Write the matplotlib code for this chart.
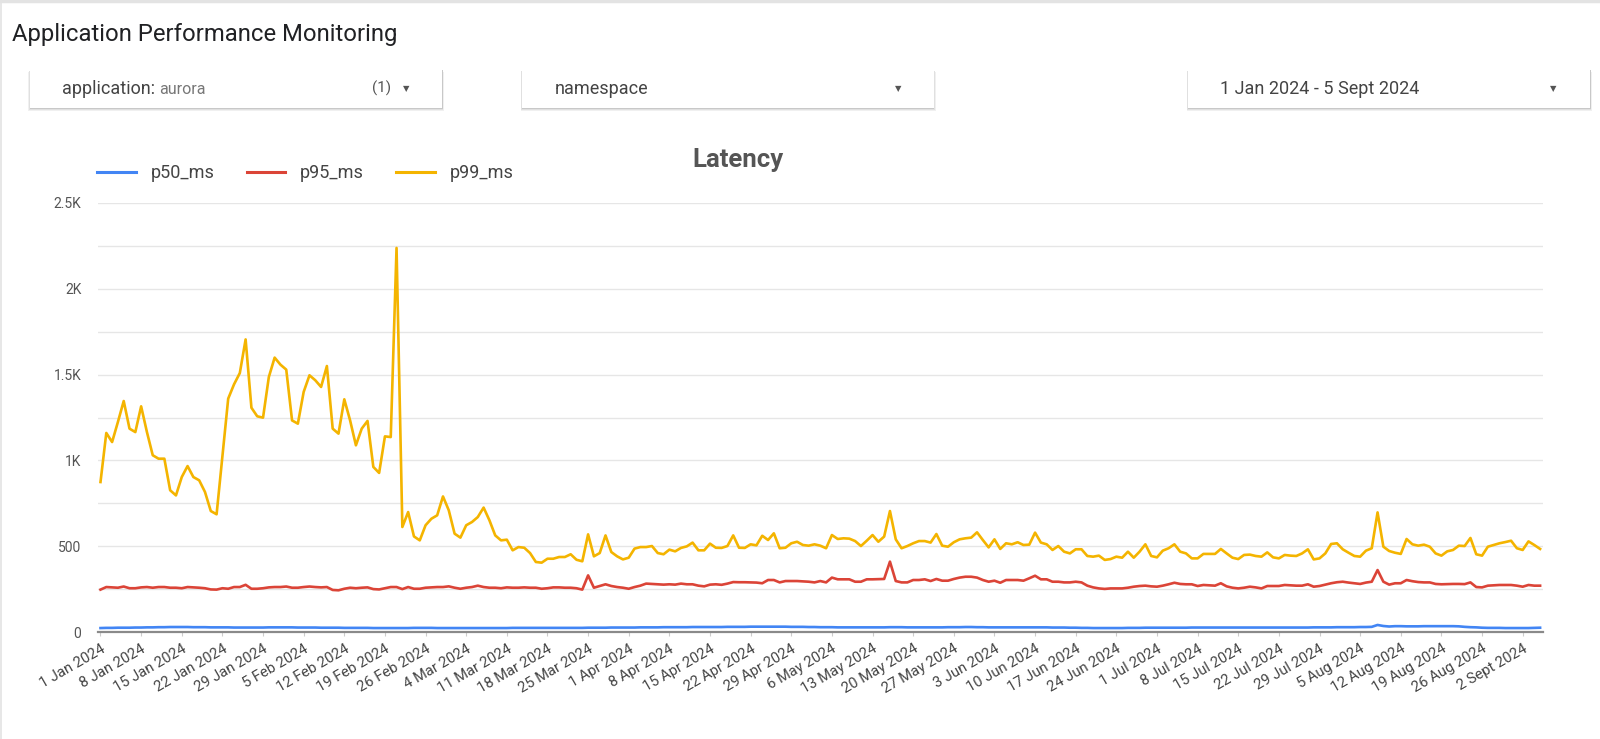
import numpy as np
import pandas as pd
import matplotlib
matplotlib.use("Agg")
import matplotlib.pyplot as plt
from matplotlib.patches import Rectangle
from matplotlib.lines import Line2D

plt.rcParams['font.family'] = ['Roboto', 'DejaVu Sans']

# daily values, 1 Jan 2024 .. 5 Sept 2024
dates = pd.date_range("2024-01-01", "2024-09-05", freq="D")

p99_ms = [
    874, 1160, 1107, 1224, 1346, 1185, 1165, 1315, 1165, 1030,
    1010, 1010, 826, 796, 903, 967, 903, 884, 816, 705,
    686, 1020, 1360, 1443, 1509, 1705, 1307, 1257, 1249, 1486,
    1599, 1558, 1529, 1233, 1214, 1399, 1496, 1467, 1428, 1550,
    1185, 1156, 1356, 1233, 1088, 1185, 1230, 962, 927, 1140,
    1136, 2238, 612, 699, 557, 534, 622, 660, 680, 790,
    709, 573, 550, 622, 641, 670, 725, 651, 563, 534,
    538, 476, 495, 491, 460, 408, 404, 427, 427, 437,
    437, 453, 421, 412, 569, 441, 460, 563, 466, 441,
    423, 433, 486, 495, 495, 501, 460, 453, 480, 470,
    490, 499, 521, 476, 476, 515, 491, 490, 501, 563,
    491, 490, 511, 505, 561, 536, 575, 488, 491, 517,
    526, 507, 503, 511, 503, 488, 565, 542, 546, 544,
    530, 501, 532, 565, 526, 556, 705, 540, 488, 501,
    517, 530, 530, 521, 571, 503, 497, 523, 540, 546,
    550, 581, 536, 493, 540, 484, 517, 511, 523, 507,
    509, 579, 521, 511, 478, 501, 468, 458, 482, 482,
    443, 439, 445, 420, 425, 439, 433, 468, 433, 468,
    511, 443, 435, 474, 488, 511, 468, 458, 429, 429,
    455, 455, 455, 484, 458, 433, 425, 449, 451, 443,
    439, 464, 435, 429, 449, 445, 443, 458, 482, 423,
    429, 458, 513, 517, 482, 462, 443, 439, 474, 488,
    697, 497, 472, 462, 455, 542, 511, 503, 509, 497,
    458, 445, 470, 478, 503, 501, 548, 453, 445, 497,
    507, 517, 524, 532, 488, 478, 528, 507, 484,
]

p95_ms = [
    247, 262, 260, 258, 265, 255, 255, 260, 262, 258,
    262, 262, 258, 258, 255, 262, 260, 258, 255, 248,
    247, 255, 252, 262, 262, 275, 252, 252, 255, 260,
    262, 262, 265, 258, 258, 262, 265, 262, 260, 262,
    245, 243, 252, 258, 255, 258, 260, 250, 248, 255,
    262, 262, 250, 262, 252, 252, 258, 260, 262, 262,
    266, 258, 252, 258, 262, 270, 262, 258, 258, 255,
    260, 258, 258, 260, 258, 258, 252, 255, 260, 260,
    258, 258, 255, 247, 330, 258, 268, 278, 268, 262,
    258, 252, 262, 270, 282, 280, 278, 276, 278, 276,
    282, 278, 278, 270, 266, 276, 278, 275, 282, 291,
    290, 290, 289, 288, 284, 303, 303, 289, 297, 297,
    297, 295, 293, 289, 297, 289, 317, 307, 307, 307,
    293, 293, 307, 307, 308, 309, 410, 297, 289, 289,
    303, 303, 307, 297, 309, 299, 299, 309, 317, 322,
    322, 317, 303, 293, 299, 287, 303, 303, 303, 299,
    313, 328, 307, 307, 293, 293, 289, 289, 293, 289,
    270, 260, 254, 251, 254, 254, 254, 258, 264, 268,
    270, 266, 264, 270, 278, 287, 280, 278, 278, 268,
    274, 272, 270, 284, 266, 258, 254, 258, 264, 260,
    254, 268, 268, 268, 274, 272, 270, 270, 278, 264,
    268, 276, 284, 290, 293, 288, 284, 280, 288, 293,
    361, 293, 276, 284, 284, 303, 296, 291, 289, 289,
    280, 278, 279, 280, 280, 279, 289, 262, 260, 270,
    272, 274, 274, 274, 270, 264, 274, 270, 270,
]

p50_ms = [
    23, 24, 24, 25, 25, 25, 26, 26, 27, 27,
    28, 28, 29, 29, 29, 29, 28, 28, 28, 27,
    27, 27, 27, 26, 26, 26, 26, 26, 26, 27,
    27, 27, 27, 27, 26, 26, 26, 26, 25, 25,
    25, 25, 24, 24, 24, 24, 24, 23, 23, 23,
    23, 23, 23, 23, 24, 24, 24, 24, 23, 23,
    23, 23, 23, 23, 23, 23, 23, 23, 23, 23,
    23, 24, 24, 24, 24, 24, 24, 24, 24, 24,
    24, 24, 24, 24, 25, 25, 25, 25, 26, 26,
    26, 26, 26, 27, 27, 27, 27, 28, 28, 28,
    28, 28, 29, 29, 29, 29, 29, 29, 30, 30,
    30, 30, 31, 31, 31, 31, 31, 31, 31, 30,
    30, 30, 29, 29, 28, 28, 28, 27, 27, 27,
    27, 27, 27, 27, 27, 27, 28, 28, 28, 27,
    27, 27, 27, 27, 27, 27, 28, 28, 28, 29,
    29, 28, 28, 27, 27, 27, 27, 27, 27, 27,
    27, 27, 27, 27, 26, 26, 26, 25, 25, 24,
    24, 23, 23, 23, 23, 23, 23, 24, 24, 24,
    25, 25, 25, 25, 25, 25, 25, 25, 26, 26,
    26, 26, 26, 26, 26, 26, 26, 26, 26, 26,
    26, 26, 26, 26, 26, 26, 26, 26, 26, 27,
    27, 27, 27, 28, 28, 28, 28, 29, 29, 30,
    41, 35, 32, 34, 34, 33, 33, 33, 34, 34,
    34, 34, 34, 34, 33, 30, 28, 27, 25, 24,
    24, 24, 23, 23, 23, 23, 23, 24, 25,
]

series_names = ["p50_ms", "p95_ms", "p99_ms"]
series_colors = ["#4285F4", "#DB4437", "#F4B400"]

tick_dates = pd.date_range("2024-01-01", "2024-09-02", freq="7D")
tick_labels = [f"{d.day} {'Sept' if d.month == 9 else d.strftime('%b')} {d.year}"
               for d in tick_dates]

W, H = 1600, 739


def fx(x):
    return x / W


def fy(y):
    return 1 - y / H


fig = plt.figure(figsize=(W / 100, H / 100), dpi=100)
fig.patch.set_facecolor("white")

# page frame
fig.add_artist(Line2D([0, 1], [fy(1), fy(1)], transform=fig.transFigure, color="#e3e3e3", lw=2.5))
fig.add_artist(Line2D([fx(0.7), fx(0.7)], [0, 1], transform=fig.transFigure, color="#e3e3e3", lw=1.2))

fig.text(fx(12), fy(34), "Application Performance Monitoring", fontsize=17.2,
         color="#202124", va="center", ha="left")


def draw_box(x0, x1, y0, y1):
    for off, col in [(3, "#f0f0f0"), (2, "#e0e0e0"), (1, "#c8c8c8")]:
        fig.patches.append(Rectangle((fx(x0 - off * 0.5), fy(y1 + off)),
                                     fx(x1 - x0 + off), (y1 - y0) / H,
                                     transform=fig.transFigure, facecolor=col,
                                     edgecolor="none", zorder=1))
    fig.patches.append(Rectangle((fx(x0), fy(y1)), fx(x1 - x0), (y1 - y0) / H,
                                 transform=fig.transFigure, facecolor="white",
                                 edgecolor="none", zorder=2))


def arrow(x, y):
    fig.text(fx(x), fy(y), "\u25BC", fontsize=6, color="#555555", ha="center",
             va="center", family="DejaVu Sans", zorder=3)


draw_box(30, 442, 69, 108)
draw_box(522, 934, 69, 108)
draw_box(1188, 1590, 69, 108)

t1 = fig.text(fx(62), fy(89), "application:", fontsize=13, color="#444444",
              va="center", ha="left", zorder=3)
fig.canvas.draw()
t1_right = t1.get_window_extent().x1
fig.text((t1_right + 4) / W, fy(89), "aurora", fontsize=11.5, color="#777777",
         va="center", ha="left", zorder=3)
fig.text(fx(372), fy(88), "(1)", fontsize=11, color="#555555", va="center", ha="left", zorder=3)
arrow(406, 89)
fig.text(fx(555), fy(89), "namespace", fontsize=13, color="#444444", va="center", ha="left", zorder=3)
arrow(898, 89)
fig.text(fx(1220), fy(89), "1 Jan 2024 - 5 Sept 2024", fontsize=13, color="#444444",
         va="center", ha="left", zorder=3)
arrow(1553, 89)

# chart
ax = fig.add_axes([fx(98), fy(632), fx(1543 - 98), (632 - 203) / H])
for name, vals, col in zip(series_names, [p50_ms, p95_ms, p99_ms], series_colors):
    ax.plot(dates, vals, color=col, lw=1.9, label=name, solid_joinstyle="round")

day = pd.Timedelta(days=1)
ax.set_xlim(dates[0] - 0.43 * day, dates[-1] + 0.5 * day)
ax.set_ylim(0, 2500)

ax.set_yticks(np.arange(0, 2501, 250))
ax.set_yticklabels(["0", "", "500", "", "1K", "", "1.5K", "", "2K", "", "2.5K"])
ax.grid(axis="y", color="#e6e6e6", lw=1)
ax.set_axisbelow(True)
ax.tick_params(axis="y", length=0, pad=12, labelsize=10, labelcolor="#555555")

ax.set_xticks(tick_dates)
ax.set_xticklabels(tick_labels, rotation=30, ha="right", rotation_mode="anchor")
ax.tick_params(axis="x", length=3, color="#cccccc", pad=4, labelsize=10.6, labelcolor="#444444")

for s in ["top", "right", "left"]:
    ax.spines[s].set_visible(False)
ax.spines["bottom"].set_color("#8a8a8a")
ax.spines["bottom"].set_linewidth(1.6)

leg = ax.legend(loc="center left", bbox_to_anchor=(fx(97), fy(173.5)),
                bbox_transform=fig.transFigure, ncol=3, frameon=False,
                fontsize=13, handlelength=2.15, handletextpad=0.8,
                columnspacing=1.8, borderpad=0, borderaxespad=0)
for t in leg.get_texts():
    t.set_color("#444444")
for h in leg.get_lines():
    h.set_linewidth(2.2)

fig.text(fx(738), fy(160), "Latency", fontsize=18.5, fontweight="bold",
         color="#555555", ha="center", va="center")

fig.savefig("out.png", dpi=100)
